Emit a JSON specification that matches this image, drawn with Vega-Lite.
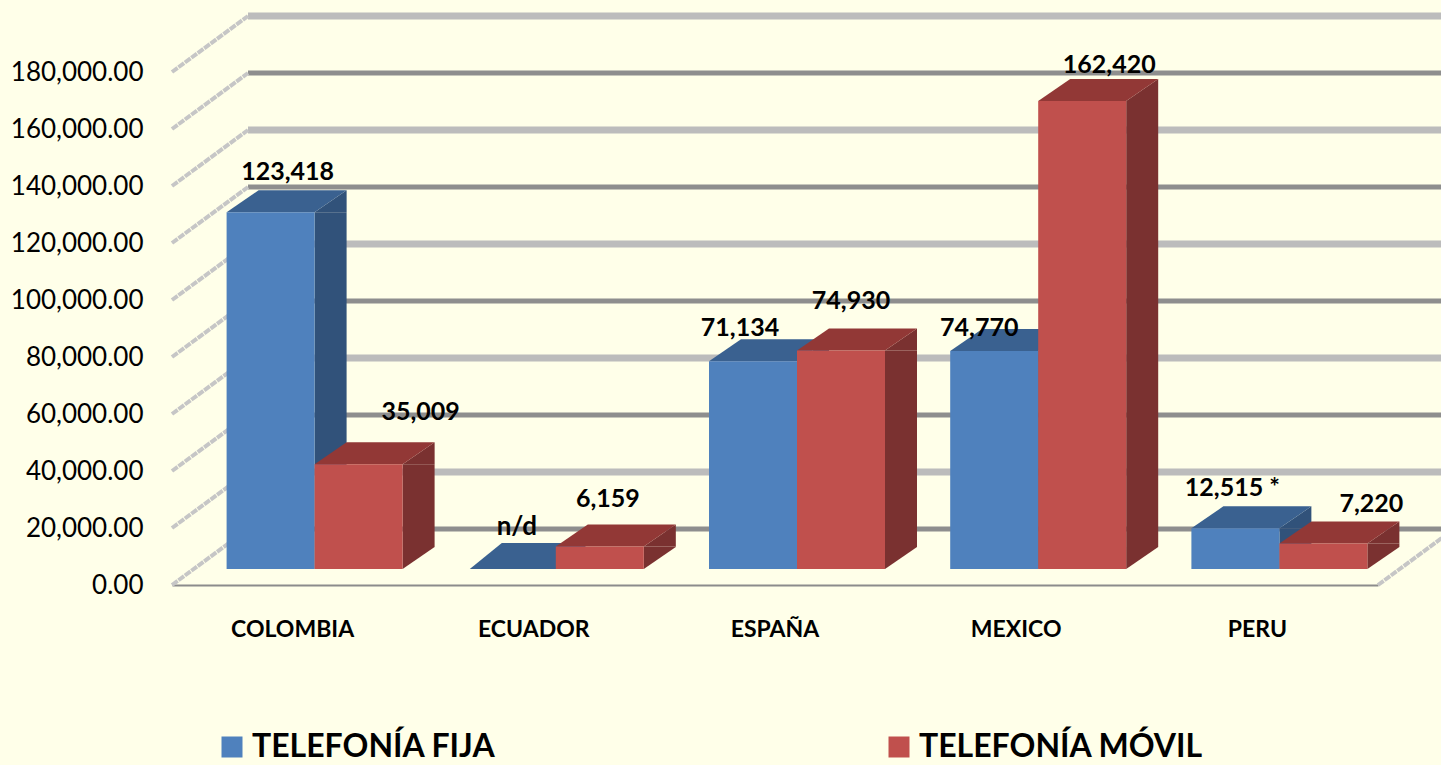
{
"$schema":"https://vega.github.io/schema/vega-lite/v6.json",
"width":1441,"height":765,"padding":0,"autosize":{"type":"none"},"background":"#FFFFE9",
"config":{"view":{"stroke":null},"font":"Lato","axis":{"title":null,"grid":false,"ticks":false}},
"datasets":{
"bars":[
{"pais":"COLOMBIA","serie":"TELEFONÍA FIJA","valor":123418,"etiqueta":"123,418"},
{"pais":"COLOMBIA","serie":"TELEFONÍA MÓVIL","valor":35009,"etiqueta":"35,009"},
{"pais":"ECUADOR","serie":"TELEFONÍA FIJA","valor":0,"etiqueta":"n/d"},
{"pais":"ECUADOR","serie":"TELEFONÍA MÓVIL","valor":6159,"etiqueta":"6,159"},
{"pais":"ESPAÑA","serie":"TELEFONÍA FIJA","valor":71134,"etiqueta":"71,134"},
{"pais":"ESPAÑA","serie":"TELEFONÍA MÓVIL","valor":74930,"etiqueta":"74,930"},
{"pais":"MEXICO","serie":"TELEFONÍA FIJA","valor":74770,"etiqueta":"74,770"},
{"pais":"MEXICO","serie":"TELEFONÍA MÓVIL","valor":162420,"etiqueta":"162,420"},
{"pais":"PERU","serie":"TELEFONÍA FIJA","valor":12515,"etiqueta":"12,515 *"},
{"pais":"PERU","serie":"TELEFONÍA MÓVIL","valor":7220,"etiqueta":"7,220"}
],
"marcas":[{"tick":0,"tono":"oscuro"},{"tick":20000,"tono":"claro"},{"tick":40000,"tono":"oscuro"},{"tick":60000,"tono":"claro"},{"tick":80000,"tono":"oscuro"},{"tick":100000,"tono":"claro"},{"tick":120000,"tono":"oscuro"},{"tick":140000,"tono":"claro"},{"tick":160000,"tono":"oscuro"},{"tick":180000,"tono":"claro"}]
},
"layer":[
{"data":{"name":"marcas"},"transform":[{"filter":"datum.tono=='claro'"}],
 "mark":{"type":"rule","stroke":"#BCBCBC","strokeWidth":7,"xOffset":76,"yOffset":-56},
 "encoding":{"x":{"datum":"COLOMBIA","bandPosition":0,"type":"nominal","scale":{"domain":["COLOMBIA","ECUADOR","ESPAÑA","MEXICO","PERU"],"range":[172,1378],"paddingInner":0,"paddingOuter":0},
 "axis":{"title":null,"orient":"bottom","offset":-180,"domainColor":"#8C8C8C","domainWidth":2,"ticks":false,"labelPadding":33,"labelFont":"Lato","labelFontSize":23,"labelFontWeight":"bold","labelColor":"#000000","labelAngle":0}},"x2":{"value":1441},
 "y":{"field":"tick","type":"quantitative","scale":{"domain":[0,180000],"range":[585,72],"nice":false},
 "axis":{"title":null,"orient":"left","offset":-172,"values":[0,20000,40000,60000,80000,100000,120000,140000,160000,180000],"format":",.2f","domain":false,"ticks":false,"grid":false,"labelPadding":29,"labelFont":"Lato","labelFontSize":26,"labelColor":"#000000"}}}},
{"data":{"name":"marcas"},"transform":[{"filter":"datum.tono=='oscuro'"}],
 "mark":{"type":"rule","stroke":"#8E8E8E","strokeWidth":5,"xOffset":76,"yOffset":-56},
 "encoding":{"x":{"datum":"COLOMBIA","bandPosition":0,"type":"nominal"},"x2":{"value":1441},
 "y":{"field":"tick","type":"quantitative"}}},
{"data":{"name":"marcas"},
 "mark":{"type":"point","shape":"M0,0L76,-56","size":4,"filled":false,"stroke":"#C6C6C6","strokeWidth":4,"strokeDash":[7,1],"opacity":1},
 "encoding":{"x":{"datum":"COLOMBIA","bandPosition":0,"type":"nominal"},"y":{"field":"tick","type":"quantitative"}}},
{"data":{"name":"marcas"},"transform":[{"filter":"datum.tick==0"}],
 "mark":{"type":"point","shape":"M0,0L76,-56","size":4,"filled":false,"stroke":"#C6C6C6","strokeWidth":4,"strokeDash":[7,1],"opacity":1},
 "encoding":{"x":{"datum":"PERU","bandPosition":1,"type":"nominal"},"y":{"field":"tick","type":"quantitative"}}},

{"data":{"name":"bars"},"transform":[{"filter":"datum.serie=='TELEFONÍA FIJA' && datum.valor>0"}],
 "mark":{"type":"bar","width":32,"fill":"#31527A","xOffset":38,"yOffset":-21,"y2Offset":-38},
 "encoding":{"x":{"field":"pais","type":"nominal"},
 "y":{"field":"valor","type":"quantitative","stack":null},"y2":{"datum":0}}},
{"data":{"name":"bars"},"transform":[{"filter":"datum.serie=='TELEFONÍA FIJA' && datum.valor>0"}],
 "mark":{"type":"point","shape":"M44,0L76,-22L76,0Z","size":4,"filled":true,"fill":"#31527A","opacity":1,"strokeWidth":0,"xOffset":-22,"yOffset":-21},
 "encoding":{"x":{"field":"pais","type":"nominal"},"y":{"field":"valor","type":"quantitative"}}},
{"data":{"name":"bars"},"transform":[{"filter":"datum.serie=='TELEFONÍA FIJA' && datum.valor>0"}],
 "mark":{"type":"point","shape":"M44,0L76,-22L44,-22Z","size":4,"filled":true,"fill":"#31527A","opacity":1,"strokeWidth":0,"xOffset":-22,"yOffset":-16},
 "encoding":{"x":{"field":"pais","type":"nominal"},"y":{"datum":0,"type":"quantitative"}}},
{"data":{"name":"bars"},"transform":[{"filter":"datum.serie=='TELEFONÍA FIJA' && datum.valor>0"}],
 "mark":{"type":"point","shape":"M-44,0L44,0L76,-22L-12,-22Z","size":4,"filled":true,"fill":"#3A6190","opacity":1,"strokeWidth":0,"xOffset":-22,"yOffset":-21},
 "encoding":{"x":{"field":"pais","type":"nominal"},"y":{"field":"valor","type":"quantitative"}}},
{"data":{"name":"bars"},"transform":[{"filter":"datum.serie=='TELEFONÍA FIJA' && datum.valor==0"}],
 "mark":{"type":"point","shape":"M-44,0L44,0L76,-26L-12,-26Z","size":4,"filled":true,"fill":"#3A6190","opacity":1,"strokeWidth":0,"xOffset":-20,"yOffset":-16},
 "encoding":{"x":{"field":"pais","type":"nominal"},"y":{"field":"valor","type":"quantitative"}}},
{"data":{"name":"bars"},"transform":[{"filter":"datum.serie=='TELEFONÍA FIJA' && datum.valor>0"}],
 "mark":{"type":"bar","width":88,"xOffset":-22,"yOffset":-21,"y2Offset":-16},
 "encoding":{"x":{"field":"pais","type":"nominal"},
 "y":{"field":"valor","type":"quantitative","stack":null},"y2":{"datum":0},
 "color":{"field":"serie","type":"nominal","scale":{"domain":["TELEFONÍA FIJA","TELEFONÍA MÓVIL"],"range":["#4F81BD","#C0504D"]},
 "legend":{"title":null,"orient":"none","legendX":216,"legendY":731,"direction":"horizontal","columns":2,"columnPadding":387,"symbolType":"square","symbolSize":441,"symbolStrokeWidth":0,"labelFont":"Lato","labelFontSize":32,"labelFontWeight":"bold","labelColor":"#000000","labelOffset":4,"labelLimit":400}}}},

{"data":{"name":"bars"},"transform":[{"filter":"datum.serie=='TELEFONÍA MÓVIL'"}],
 "mark":{"type":"bar","width":32,"fill":"#7A3130","xOffset":126,"yOffset":-21,"y2Offset":-38},
 "encoding":{"x":{"field":"pais","type":"nominal"},"y":{"field":"valor","type":"quantitative","stack":null},"y2":{"datum":0}}},
{"data":{"name":"bars"},"transform":[{"filter":"datum.serie=='TELEFONÍA MÓVIL'"}],
 "mark":{"type":"point","shape":"M44,0L76,-22L76,0Z","size":4,"filled":true,"fill":"#7A3130","opacity":1,"strokeWidth":0,"xOffset":66,"yOffset":-21},
 "encoding":{"x":{"field":"pais","type":"nominal"},"y":{"field":"valor","type":"quantitative"}}},
{"data":{"name":"bars"},"transform":[{"filter":"datum.serie=='TELEFONÍA MÓVIL'"}],
 "mark":{"type":"point","shape":"M44,0L76,-22L44,-22Z","size":4,"filled":true,"fill":"#7A3130","opacity":1,"strokeWidth":0,"xOffset":66,"yOffset":-16},
 "encoding":{"x":{"field":"pais","type":"nominal"},"y":{"datum":0,"type":"quantitative"}}},
{"data":{"name":"bars"},"transform":[{"filter":"datum.serie=='TELEFONÍA MÓVIL'"}],
 "mark":{"type":"point","shape":"M-44,0L44,0L76,-22L-12,-22Z","size":4,"filled":true,"fill":"#923836","opacity":1,"strokeWidth":0,"xOffset":66,"yOffset":-21},
 "encoding":{"x":{"field":"pais","type":"nominal"},"y":{"field":"valor","type":"quantitative"}}},
{"data":{"name":"bars"},"transform":[{"filter":"datum.serie=='TELEFONÍA MÓVIL'"}],
 "mark":{"type":"bar","width":88,"xOffset":66,"yOffset":-21,"y2Offset":-16},
 "encoding":{"x":{"field":"pais","type":"nominal"},"y":{"field":"valor","type":"quantitative","stack":null},"y2":{"datum":0},
 "color":{"field":"serie","type":"nominal"}}},

{"data":{"name":"bars"},"transform":[{"filter":"datum.etiqueta=='123,418'"}],"mark":{"type":"text","font":"Lato","fontWeight":"bold","fontSize":25,"fill":"#000000","xOffset":-5,"yOffset":-61},"encoding":{"x":{"field":"pais","type":"nominal"},"y":{"field":"valor","type":"quantitative"},"text":{"field":"etiqueta"}}},
{"data":{"name":"bars"},"transform":[{"filter":"datum.etiqueta=='35,009'"}],"mark":{"type":"text","font":"Lato","fontWeight":"bold","fontSize":25,"fill":"#000000","xOffset":128,"yOffset":-73},"encoding":{"x":{"field":"pais","type":"nominal"},"y":{"field":"valor","type":"quantitative"},"text":{"field":"etiqueta"}}},
{"data":{"name":"bars"},"transform":[{"filter":"datum.etiqueta=='n/d'"}],"mark":{"type":"text","font":"Lato","fontWeight":"bold","fontSize":26,"fill":"#000000","xOffset":-17,"yOffset":-58},"encoding":{"x":{"field":"pais","type":"nominal"},"y":{"field":"valor","type":"quantitative"},"text":{"field":"etiqueta"}}},
{"data":{"name":"bars"},"transform":[{"filter":"datum.etiqueta=='6,159'"}],"mark":{"type":"text","font":"Lato","fontWeight":"bold","fontSize":25,"fill":"#000000","xOffset":74,"yOffset":-68},"encoding":{"x":{"field":"pais","type":"nominal"},"y":{"field":"valor","type":"quantitative"},"text":{"field":"etiqueta"}}},
{"data":{"name":"bars"},"transform":[{"filter":"datum.etiqueta=='71,134'"}],"mark":{"type":"text","font":"Lato","fontWeight":"bold","fontSize":25,"fill":"#000000","xOffset":-35,"yOffset":-54},"encoding":{"x":{"field":"pais","type":"nominal"},"y":{"field":"valor","type":"quantitative"},"text":{"field":"etiqueta"}}},
{"data":{"name":"bars"},"transform":[{"filter":"datum.etiqueta=='74,930'"}],"mark":{"type":"text","font":"Lato","fontWeight":"bold","fontSize":25,"fill":"#000000","xOffset":76,"yOffset":-70},"encoding":{"x":{"field":"pais","type":"nominal"},"y":{"field":"valor","type":"quantitative"},"text":{"field":"etiqueta"}}},
{"data":{"name":"bars"},"transform":[{"filter":"datum.etiqueta=='74,770'"}],"mark":{"type":"text","font":"Lato","fontWeight":"bold","fontSize":25,"fill":"#000000","xOffset":-37,"yOffset":-44},"encoding":{"x":{"field":"pais","type":"nominal"},"y":{"field":"valor","type":"quantitative"},"text":{"field":"etiqueta"}}},
{"data":{"name":"bars"},"transform":[{"filter":"datum.etiqueta=='162,420'"}],"mark":{"type":"text","font":"Lato","fontWeight":"bold","fontSize":25,"fill":"#000000","xOffset":93,"yOffset":-57},"encoding":{"x":{"field":"pais","type":"nominal"},"y":{"field":"valor","type":"quantitative"},"text":{"field":"etiqueta"}}},
{"data":{"name":"bars"},"transform":[{"filter":"datum.etiqueta=='12,515 *'"}],"mark":{"type":"text","font":"Lato","fontWeight":"bold","fontSize":25,"fill":"#000000","xOffset":-25,"yOffset":-61},"encoding":{"x":{"field":"pais","type":"nominal"},"y":{"field":"valor","type":"quantitative"},"text":{"field":"etiqueta"}}},
{"data":{"name":"bars"},"transform":[{"filter":"datum.etiqueta=='7,220'"}],"mark":{"type":"text","font":"Lato","fontWeight":"bold","fontSize":25,"fill":"#000000","xOffset":114,"yOffset":-60},"encoding":{"x":{"field":"pais","type":"nominal"},"y":{"field":"valor","type":"quantitative"},"text":{"field":"etiqueta"}}}
]
}
